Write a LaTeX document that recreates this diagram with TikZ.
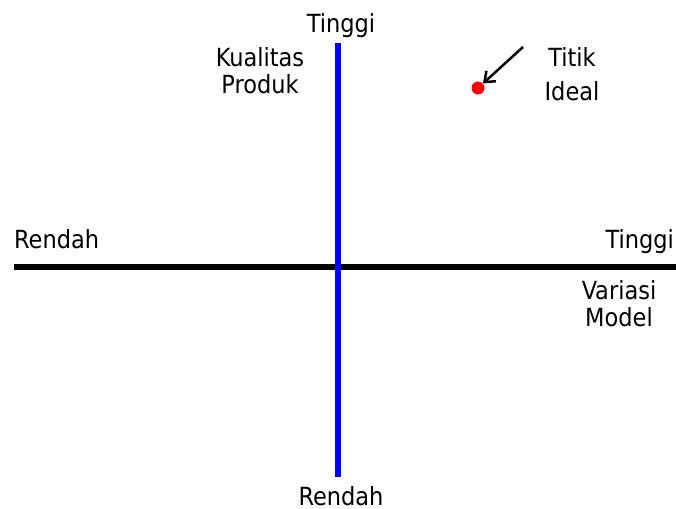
\documentclass[tikz,border=0pt]{standalone}
\usepackage{fontspec}
\setmainfont{DejaVu Sans Condensed}
\usetikzlibrary{arrows.meta}
\begin{document}
\begin{tikzpicture}[x=1pt,y=-1pt,
  lbl/.style={inner sep=0pt,font=\fontsize{25}{27}\selectfont,align=center},
  axis/.style={line width=6pt},
  pointer/.style={line width=2.5pt,-{Straight Barb[length=9pt,width=14pt]}}]
\useasboundingbox (0,0) rectangle (676,508);
\coordinate (hl) at (14,266.5);
\coordinate (hr) at (676,266.5);
\coordinate (vt) at (338,43);
\coordinate (vb) at (338,476.5);
\draw[axis,black] (hl) -- (hr);
\draw[axis,blue,line width=5.5pt] (vt) -- (vb);
\node[lbl,anchor=base] (ytop) at (341,33) {Tinggi};
\node[lbl,anchor=base] (ybot) at (341,505) {Rendah};
\node[lbl,anchor=base west] (xleft) at (14,248) {Rendah};
\node[lbl,anchor=base east] (xright) at (674,248) {Tinggi};
\node[lbl,anchor=base,font=\fontsize{25}{27}\selectfont] (ylab) at (260,94) {Kualitas\\Produk};
\node[lbl,anchor=base,font=\fontsize{25}{27}\selectfont] (xlab) at (619,326) {Variasi\\Model};
\node[lbl,anchor=base,font=\fontsize{25}{33}\selectfont] (ideal) at (572,100) {Titik\\Ideal};
\node[circle,fill=red,inner sep=0pt,minimum size=13pt] (dot) at (478,88) {};
\coordinate (as) at (523,47);
\draw[pointer] (as) -- (dot);
\end{tikzpicture}
\end{document}
